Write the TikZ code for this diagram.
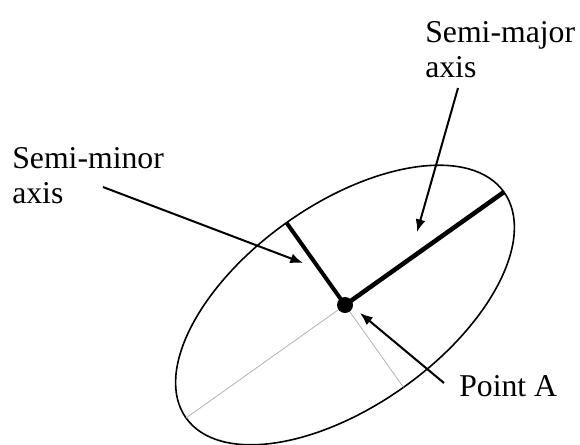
\documentclass[tikz,border=0pt]{standalone}
\usepackage{fontspec}
\setmainfont{Liberation Serif}
\usetikzlibrary{arrows.meta}
\tikzset{
  lbl/.style={align=left,inner sep=0pt,anchor=north west,font=\fontsize{23.8}{26.6}\selectfont},
  ptr/.style={line width=1.5pt,-{Latex[length=9.5pt,width=7.5pt]}},
  semiaxis/.style={line width=3.4pt},
  guide/.style={line width=0.6pt,gray!60}
}
\begin{document}
\begin{tikzpicture}[x=0.75pt,y=-0.75pt]
\useasboundingbox (0,0) rectangle (580,444);
% centre and axis ends
\coordinate (A) at (345,305);
\coordinate (majend) at (504,192);
\coordinate (minend) at (286.5,222.7);
\coordinate (majback) at (186,418);
\coordinate (minback) at (403.5,387.3);
% ellipse
\draw[line width=1.2pt,rotate around={35.4:(A)}] (A) ellipse [x radius=195,y radius=101];
\draw[guide] (A) -- (majback);
\draw[guide] (A) -- (minback);
\draw[semiaxis] (A) -- (majend);
\draw[semiaxis,line width=3pt] (A) -- (minend);
\node[circle,fill,inner sep=0pt,minimum size=12pt] (dot) at (A) {};
% labels
\node[lbl] (major) at (425,21) {Semi-major\\axis};
\node[lbl] (minor) at (12,147) {Semi-minor\\axis};
\node[lbl] (pointA) at (459,375) {Point A};
% pointers
\coordinate (majtail) at (458,88);
\coordinate (majtip) at (417,232);
\coordinate (mintail) at (103,187);
\coordinate (mintip) at (303,263);
\coordinate (ptail) at (444,383);
\coordinate (ptip) at (360,313);
\draw[ptr] (majtail) -- (majtip);
\draw[ptr] (mintail) -- (mintip);
\draw[ptr] (ptail) -- (ptip);
\end{tikzpicture}
\end{document}
